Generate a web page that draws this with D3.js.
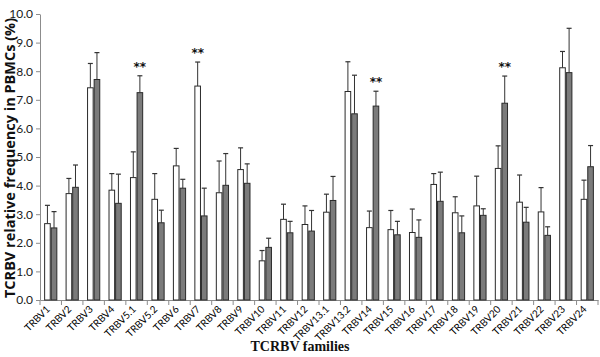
<!DOCTYPE html>
<html>
<head>
<meta charset="utf-8">
<script src="https://cdn.jsdelivr.net/npm/d3@7"></script>
<style>
  html, body { margin: 0; padding: 0; background: #fff; }
  svg { display: block; }
</style>
</head>
<body>
<svg id="chart" width="600" height="357"></svg>
<script>
const categories = ["TRBV1","TRBV2","TRBV3","TRBV4","TRBV5.1","TRBV5.2","TRBV6","TRBV7","TRBV8","TRBV9","TRBV10","TRBV11","TRBV12","TRBV13.1","TRBV13.2","TRBV14","TRBV15","TRBV16","TRBV17","TRBV18","TRBV19","TRBV20","TRBV21","TRBV22","TRBV23","TRBV24"];
const whiteValues = [2.67,3.72,7.42,3.84,4.28,3.52,4.69,7.48,3.75,4.56,1.37,2.82,2.64,3.07,7.29,2.53,2.46,2.36,4.04,3.05,3.29,4.6,3.42,3.08,8.12,3.52];
const whiteErr    = [0.64,0.53,0.85,0.58,0.9,0.9,0.61,0.84,1.11,0.76,0.36,0.53,0.65,0.63,1.04,0.58,0.67,0.82,0.38,0.56,1.04,0.79,0.95,0.85,0.57,0.67];
const grayValues  = [2.52,3.94,7.71,3.38,7.25,2.7,3.91,2.94,4.01,4.08,1.84,2.35,2.41,3.48,6.51,6.78,2.28,2.19,3.45,2.35,2.96,6.88,2.72,2.26,7.95,4.66];
const grayErr     = [0.57,0.78,0.94,1.02,0.59,0.44,0.31,0.97,1.11,0.68,0.32,0.4,0.72,0.84,1.35,0.52,0.47,0.61,1.02,0.59,0.23,0.95,0.52,0.3,1.55,0.74];
const significant = [["TRBV5.1","gray"],["TRBV7","white"],["TRBV14","gray"],["TRBV20","gray"]];
const yTicks = [0,1,2,3,4,5,6,7,8,9,10];
const yTitle = "TCRBV relative frequency in PBMCs (%)";
const xTitle = "TCRBV families";

const svg = d3.select("#chart");
const mLeft = 40, mRight = 598, mTop = 14, mBottom = 300;

const x = d3.scaleBand().domain(categories).range([mLeft, mRight]).paddingInner(0).paddingOuter(0);
const y = d3.scaleLinear().domain([0, 10]).range([mBottom, mTop]);
const barW = 6.6;

const tickFont = "Lato, 'Open Sans', sans-serif";

// Y axis
const yAxis = svg.append("g").attr("transform", `translate(${mLeft},0)`)
  .call(d3.axisLeft(y).tickValues(yTicks).tickFormat(d3.format(".1f")).tickSize(4).tickSizeOuter(0));
yAxis.select(".domain").attr("stroke", "#8c8c8c");
yAxis.selectAll(".tick line").attr("stroke", "#8c8c8c");
yAxis.selectAll(".tick text").attr("font-family", tickFont).attr("font-size", 12).attr("fill", "#1a1a1a").attr("x", -7);

// X axis
const xAxis = svg.append("g").attr("transform", `translate(0,${mBottom})`)
  .call(d3.axisBottom(x).tickSize(0).tickSizeOuter(0));
xAxis.select(".domain").attr("stroke", "#8c8c8c");
const bounds = categories.map(c => x(c)).concat([mRight]);
svg.append("g").selectAll("line").data(bounds).join("line")
  .attr("x1", d => d).attr("x2", d => d).attr("y1", mBottom).attr("y2", mBottom + 5)
  .attr("stroke", "#8c8c8c");
xAxis.selectAll(".tick text")
  .attr("font-family", tickFont).attr("font-size", 10).attr("fill", "#000")
  .attr("text-anchor", "end").attr("dy", 0)
  .attr("transform", "translate(0,10) rotate(-45)")
  .attr("y", 0).attr("x", 0);

// Bars
const series = [
  {name: "white", values: whiteValues, err: whiteErr, fill: "#ffffff", off: -barW},
  {name: "gray", values: grayValues, err: grayErr, fill: "#7b7b7b", off: 0}
];
series.forEach(s => {
  const g = svg.append("g");
  const data = categories.map((c, i) => ({c, v: s.values[i], e: s.err[i]}));
  const cx = d => x(d.c) + x.bandwidth() / 2 + s.off + barW / 2;
  g.selectAll("line.err").data(data).join("line").attr("class", "err")
    .attr("x1", cx).attr("x2", cx).attr("y1", d => y(d.v)).attr("y2", d => y(d.v + d.e))
    .attr("stroke", "#333").attr("stroke-width", 1);
  g.selectAll("line.cap").data(data).join("line").attr("class", "cap")
    .attr("x1", d => cx(d) - 2.5).attr("x2", d => cx(d) + 2.5)
    .attr("y1", d => y(d.v + d.e)).attr("y2", d => y(d.v + d.e))
    .attr("stroke", "#333").attr("stroke-width", 1.2);
  g.selectAll("rect").data(data).join("rect")
    .attr("x", d => x(d.c) + x.bandwidth() / 2 + s.off + 0.5)
    .attr("width", barW - 1)
    .attr("y", d => y(d.v))
    .attr("height", d => y(0) - y(d.v))
    .attr("fill", s.fill).attr("stroke", "#2a2a2a").attr("stroke-width", 1);
});

// Significance markers
svg.append("g").selectAll("text").data(significant).join("text")
  .attr("x", d => {
    const s = series.find(q => q.name === d[1]);
    return x(d[0]) + x.bandwidth() / 2 + s.off + barW / 2;
  })
  .attr("y", d => {
    const s = series.find(q => q.name === d[1]);
    const i = categories.indexOf(d[0]);
    return y(s.values[i] + s.err[i]) - 5;
  })
  .attr("text-anchor", "middle")
  .attr("font-family", "'DejaVu Sans', sans-serif").attr("font-weight", "bold").attr("font-size", 12)
  .attr("fill", "#111")
  .text("**");

// Titles
svg.append("text")
  .attr("transform", `translate(15,158) rotate(-90)`)
  .attr("text-anchor", "middle")
  .attr("font-family", "'Open Sans', sans-serif").attr("font-weight", "bold").attr("font-size", 14.5)
  .attr("fill", "#111")
  .text(yTitle);
svg.append("text")
  .attr("x", 300).attr("y", 351)
  .attr("text-anchor", "middle")
  .attr("font-family", "'Liberation Serif', 'DejaVu Serif', serif").attr("font-weight", "bold").attr("font-size", 14)
  .attr("fill", "#111")
  .text(xTitle);
</script>
</body>
</html>
